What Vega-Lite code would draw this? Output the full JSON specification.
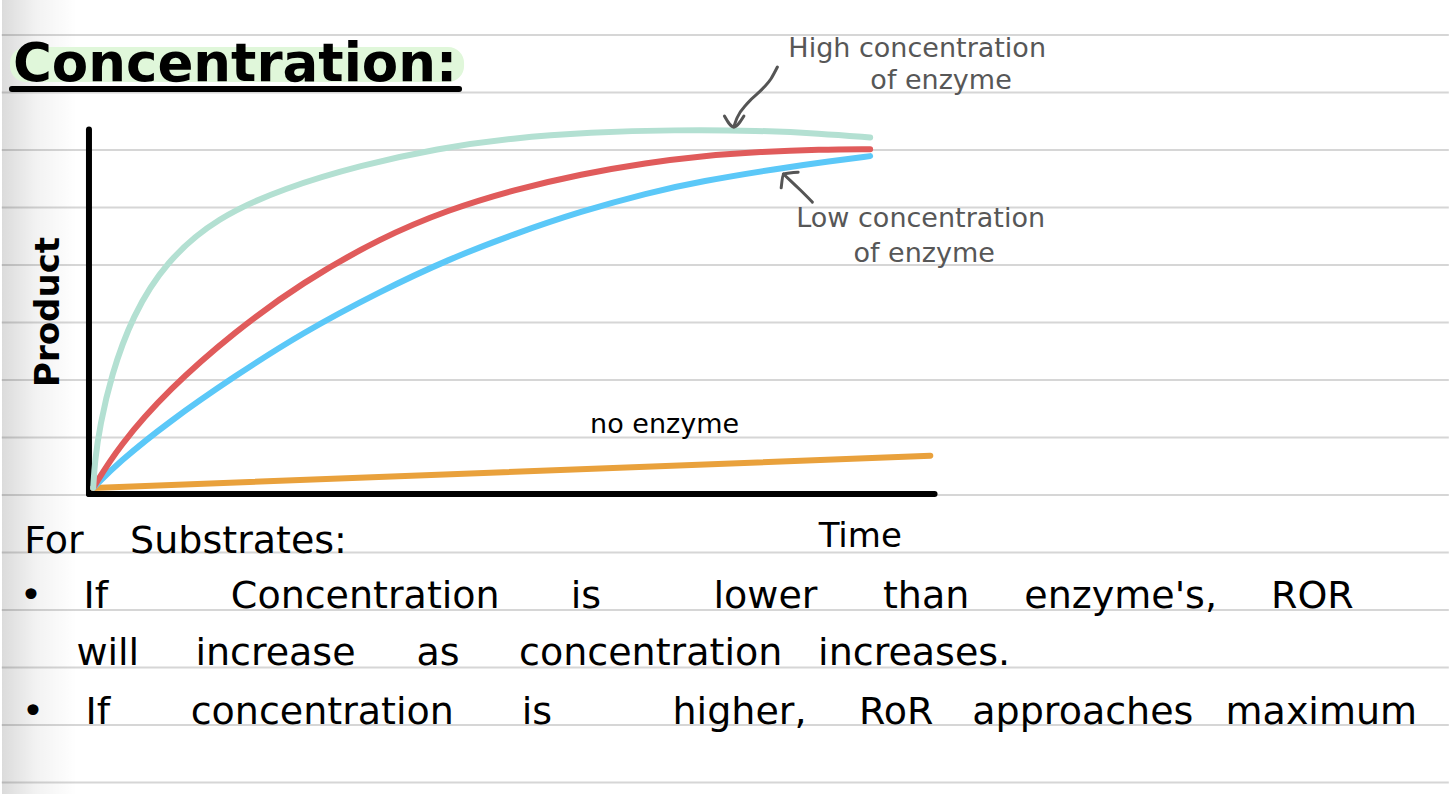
{
  "$schema": "https://vega.github.io/schema/vega-lite/v6.json",
  "width": 1450,
  "height": 794,
  "autosize": {"type": "fit", "contains": "padding"},
  "padding": 0,
  "background": "#ffffff",
  "config": {"view": {"stroke": null}},
  "encoding": {
    "x": {"field": "t", "type": "quantitative", "scale": {"domain": [-1.0365, 16.042], "nice": false, "zero": false}, "axis": null},
    "y": {"field": "p", "type": "quantitative", "scale": {"domain": [-82.47, 135.07], "nice": false, "zero": false}, "axis": null}
  },
  "layer": [
    {
      "data": {"values": [
        {"t": -1.04, "t2": 16.04, "p": 125.48}, {"t": -1.04, "t2": 16.04, "p": 109.73},
        {"t": -1.04, "t2": 16.04, "p": 93.97}, {"t": -1.04, "t2": 16.04, "p": 78.22},
        {"t": -1.04, "t2": 16.04, "p": 62.47}, {"t": -1.04, "t2": 16.04, "p": 46.71},
        {"t": -1.04, "t2": 16.04, "p": 30.96}, {"t": -1.04, "t2": 16.04, "p": 15.21},
        {"t": -1.04, "t2": 16.04, "p": -0.55}, {"t": -1.04, "t2": 16.04, "p": -16.3},
        {"t": -1.04, "t2": 16.04, "p": -32.05}, {"t": -1.04, "t2": 16.04, "p": -47.81},
        {"t": -1.04, "t2": 16.04, "p": -63.56}, {"t": -1.04, "t2": 16.04, "p": -79.32}
      ]},
      "mark": {"type": "rule", "color": "#d6d6d6", "strokeWidth": 2},
      "encoding": {"x2": {"field": "t2"}}
    },
    {
      "data": {"values": [{"t": -1.0365, "t2": -0.153, "p": -82.47, "p2": 135.07}]},
      "mark": {"type": "rect", "fill": {"gradient": "linear", "x1": 0, "y1": 0, "x2": 1, "y2": 0, "stops": [
        {"offset": 0, "color": "rgba(0,0,0,0.14)"},
        {"offset": 0.45, "color": "rgba(0,0,0,0.05)"},
        {"offset": 1, "color": "rgba(0,0,0,0)"}
      ]}},
      "encoding": {"x2": {"field": "t2"}, "y2": {"field": "p2"}}
    },
    {
      "data": {"values": [{"t": -0.942, "t2": 4.417, "p": 122.2, "p2": 112.6}]},
      "mark": {"type": "rect", "color": "#e0f7da", "cornerRadius": 16},
      "encoding": {"x2": {"field": "t2"}, "y2": {"field": "p2"}}
    },
    {
      "data": {"values": [{"t": -0.919, "t2": 4.358, "p": 110.7}]},
      "mark": {"type": "rule", "color": "#000000", "strokeWidth": 6, "strokeCap": "round"},
      "encoding": {"x2": {"field": "t2"}}
    },
    {
      "data": {"values": [{"label": "Concentration:", "t": 1.714, "p": 112.9}]},
      "mark": {"type": "text", "font": "DejaVu Sans", "fontWeight": "bold", "fontSize": 53, "align": "center", "baseline": "alphabetic", "color": "#000000"},
      "encoding": {"text": {"field": "label"}}
    },
    {
      "data": {"values": [
        {"axis": "Time", "t": -0.01, "t2": 9.97, "p": -0.3, "p2": -0.3},
        {"axis": "Product", "t": -0.01, "t2": -0.01, "p": -0.3, "p2": 99.6}
      ]},
      "mark": {"type": "rule", "color": "#000000", "strokeWidth": 6, "strokeCap": "round"},
      "encoding": {"x2": {"field": "t2"}, "y2": {"field": "p2"}}
    },
    {
      "data": {"values": [
        {"series": "no enzyme", "t": 0.04, "p": 1.4}, {"series": "no enzyme", "t": 9.92, "p": 10.2},
        {"series": "low", "t": 0.04, "p": 1.4}, {"series": "low", "t": 0.34, "p": 8.4}, {"series": "low", "t": 0.93, "p": 19.5},
        {"series": "low", "t": 1.71, "p": 32.0}, {"series": "low", "t": 2.5, "p": 43.8},
        {"series": "low", "t": 3.44, "p": 55.4}, {"series": "low", "t": 4.23, "p": 64.0}, {"series": "low", "t": 5.01, "p": 71.0},
        {"series": "low", "t": 5.8, "p": 77.2}, {"series": "low", "t": 6.58, "p": 82.2}, {"series": "low", "t": 7.21, "p": 85.4},
        {"series": "low", "t": 8.15, "p": 89.0}, {"series": "low", "t": 8.74, "p": 90.9}, {"series": "low", "t": 9.21, "p": 92.3},
        {"series": "medium", "t": 0.04, "p": 1.4}, {"series": "medium", "t": 0.34, "p": 12.8}, {"series": "medium", "t": 0.93, "p": 28.4},
        {"series": "medium", "t": 1.71, "p": 44.2}, {"series": "medium", "t": 2.5, "p": 57.6},
        {"series": "medium", "t": 3.44, "p": 70.0}, {"series": "medium", "t": 4.23, "p": 77.6}, {"series": "medium", "t": 5.01, "p": 83.1},
        {"series": "medium", "t": 5.8, "p": 87.4}, {"series": "medium", "t": 6.58, "p": 90.5}, {"series": "medium", "t": 7.21, "p": 92.3},
        {"series": "medium", "t": 7.92, "p": 93.5}, {"series": "medium", "t": 8.62, "p": 94.1}, {"series": "medium", "t": 9.21, "p": 94.2},
        {"series": "high", "t": 0.04, "p": 1.4}, {"series": "high", "t": 0.06, "p": 9.0}, {"series": "high", "t": 0.12, "p": 18.5},
        {"series": "high", "t": 0.25, "p": 32.0}, {"series": "high", "t": 0.5, "p": 48.5},
        {"series": "high", "t": 0.9, "p": 63.5}, {"series": "high", "t": 1.5, "p": 75.5},
        {"series": "high", "t": 2.3, "p": 83.6}, {"series": "high", "t": 3.2, "p": 89.8},
        {"series": "high", "t": 4.1, "p": 94.4}, {"series": "high", "t": 5.0, "p": 97.3},
        {"series": "high", "t": 5.9, "p": 98.8}, {"series": "high", "t": 6.9, "p": 99.5},
        {"series": "high", "t": 7.9, "p": 99.3}, {"series": "high", "t": 8.62, "p": 98.5}, {"series": "high", "t": 9.21, "p": 97.4}
      ]},
      "mark": {"type": "line", "strokeWidth": 6, "strokeCap": "round", "interpolate": "basis"},
      "encoding": {
        "color": {"field": "series", "type": "nominal", "legend": null,
          "scale": {"domain": ["no enzyme", "low", "medium", "high"], "range": ["#e9a13c", "#5bc8f8", "#e05b5b", "#b3e0d2"]}},
        "order": {"field": "t", "type": "quantitative"}
      }
    },
    {
      "data": {"values": [
        {"arrow": "high shaft", "i": 1, "t": 8.115, "p": 116.7}, {"arrow": "high shaft", "i": 2, "t": 8.04, "p": 113.5},
        {"arrow": "high shaft", "i": 3, "t": 7.951, "p": 111.0}, {"arrow": "high shaft", "i": 4, "t": 7.762, "p": 106.8},
        {"arrow": "high shaft", "i": 5, "t": 7.64, "p": 102.8}, {"arrow": "high shaft", "i": 6, "t": 7.6, "p": 100.3},
        {"arrow": "high head", "i": 1, "t": 7.49, "p": 103.3}, {"arrow": "high head", "i": 2, "t": 7.6, "p": 100.3},
        {"arrow": "high head", "i": 3, "t": 7.72, "p": 103.3},
        {"arrow": "low shaft", "i": 1, "t": 8.528, "p": 79.7}, {"arrow": "low shaft", "i": 2, "t": 8.386, "p": 83.0},
        {"arrow": "low shaft", "i": 3, "t": 8.269, "p": 85.6}, {"arrow": "low shaft", "i": 4, "t": 8.186, "p": 87.4},
        {"arrow": "low head", "i": 1, "t": 8.16, "p": 83.6}, {"arrow": "low head", "i": 2, "t": 8.186, "p": 87.4},
        {"arrow": "low head", "i": 3, "t": 8.36, "p": 87.9}
      ]},
      "mark": {"type": "line", "color": "#555555", "strokeWidth": 3, "strokeCap": "round", "strokeJoin": "round", "interpolate": "monotone"},
      "encoding": {"detail": {"field": "arrow"}, "order": {"field": "i", "type": "quantitative"}}
    },
    {
      "data": {"values": [
        {"label": "High  concentration", "t": 9.765, "p": 119.5},
        {"label": "of    enzyme", "t": 10.047, "p": 110.7},
        {"label": "Low concentration", "t": 9.806, "p": 72.9},
        {"label": "of  enzyme", "t": 9.847, "p": 63.3}
      ]},
      "mark": {"type": "text", "font": "DejaVu Sans", "fontSize": 27, "align": "center", "baseline": "alphabetic", "color": "#575757"},
      "encoding": {"text": {"field": "label"}}
    },
    {
      "data": {"values": [{"label": "no  enzyme", "t": 6.784, "p": 16.44}]},
      "mark": {"type": "text", "font": "DejaVu Sans", "fontSize": 27, "align": "center", "baseline": "alphabetic", "color": "#000000"},
      "encoding": {"text": {"field": "label"}}
    },
    {
      "data": {"values": [{"label": "Product", "t": -0.365, "p": 49.6}]},
      "mark": {"type": "text", "font": "DejaVu Sans", "fontWeight": "bold", "fontSize": 34, "angle": 270, "align": "center", "baseline": "alphabetic", "color": "#000000"},
      "encoding": {"text": {"field": "label"}}
    },
    {
      "data": {"values": [{"label": "Time", "t": 9.093, "p": -14.79}]},
      "mark": {"type": "text", "font": "DejaVu Sans", "fontSize": 34, "align": "center", "baseline": "alphabetic", "color": "#000000"},
      "encoding": {"text": {"field": "label"}}
    },
    {
      "data": {"values": [
        {"label": "For", "t": -0.424, "p": -16.44},
        {"label": "Substrates:", "t": 1.755, "p": -16.44},
        {"label": "•", "t": -0.695, "p": -31.51},
        {"label": "If", "t": 0.071, "p": -31.51},
        {"label": "Concentration", "t": 3.251, "p": -31.51},
        {"label": "is", "t": 5.854, "p": -31.51},
        {"label": "lower", "t": 7.974, "p": -31.51},
        {"label": "than", "t": 9.87, "p": -31.51},
        {"label": "enzyme's,", "t": 12.167, "p": -31.51},
        {"label": "ROR", "t": 14.429, "p": -31.51},
        {"label": "will", "t": 0.212, "p": -47.12},
        {"label": "increase", "t": 2.191, "p": -47.12},
        {"label": "as", "t": 4.111, "p": -47.12},
        {"label": "concentration", "t": 6.62, "p": -47.12},
        {"label": "increases.", "t": 9.729, "p": -47.12},
        {"label": "•", "t": -0.671, "p": -63.29},
        {"label": "If", "t": 0.094, "p": -63.29},
        {"label": "concentration", "t": 2.744, "p": -63.29},
        {"label": "is", "t": 5.277, "p": -63.29},
        {"label": "higher,", "t": 7.668, "p": -63.29},
        {"label": "RoR", "t": 9.517, "p": -63.29},
        {"label": "approaches", "t": 11.72, "p": -63.29},
        {"label": "maximum", "t": 14.535, "p": -63.29}
      ]},
      "mark": {"type": "text", "font": "DejaVu Sans", "fontSize": 38, "align": "center", "baseline": "alphabetic", "color": "#000000"},
      "encoding": {"text": {"field": "label"}}
    }
  ]
}
